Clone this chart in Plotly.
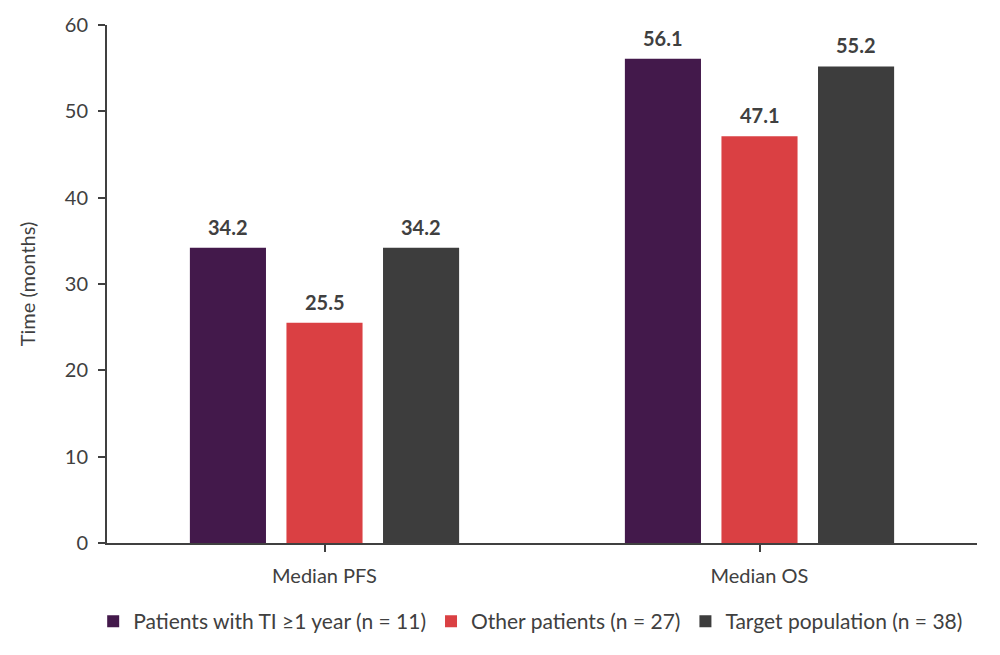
import plotly.graph_objects as go

categories = ["Median PFS", "Median OS"]
series_names = [
    "Patients with TI \u22651 year (n = 11)",
    "Other patients (n = 27)",
    "Target population (n = 38)",
]
ti_values = [34.2, 56.1]
other_values = [25.5, 47.1]
target_values = [34.2, 55.2]
colors = ["#43194B", "#DA4043", "#3D3D3D"]

FONT = "Lato"
TXT = "#404040"
FS = 20

W, H = 1000, 655
ML, MR, MT, MB = 107, 23, 25, 112
BARGAP, GROUPGAP = 0.334, 0.212

fig = go.Figure()
all_vals = [ti_values, other_values, target_values]
for name, vals, col in zip(series_names, all_vals, colors):
    fig.add_trace(go.Bar(
        x=categories, y=vals, name=name, marker=dict(color=col, line=dict(width=0)),
        cliponaxis=False, hoverinfo="skip",
    ))

# value labels above bars (offset computed from the bar layout)
plot_w = W - ML - MR
slot = plot_w / len(categories) * (1 - BARGAP) / len(all_vals)
for i, vals in enumerate(all_vals):
    for c, v in zip(categories, vals):
        fig.add_annotation(
            x=c, y=v, xref="x", yref="y", text=f"<b>{v:.1f}</b>", showarrow=False,
            xshift=(i - (len(all_vals) - 1) / 2) * slot, yshift=7, yanchor="bottom",
            font=dict(family=FONT, size=FS, color=TXT),
        )

fig.update_layout(
    width=W, height=H,
    paper_bgcolor="white", plot_bgcolor="white",
    margin=dict(l=ML, r=MR, t=MT, b=MB, autoexpand=False),
    barmode="group", bargap=BARGAP, bargroupgap=GROUPGAP,
    font=dict(family=FONT, size=FS, color=TXT),
    legend=dict(orientation="h", x=0.487, xanchor="center", y=-0.112, yanchor="top",
                font=dict(family=FONT, size=21, color=TXT),
                traceorder="normal"),
    xaxis=dict(showline=True, linecolor="#404040", linewidth=2, ticks="outside",
               ticklen=7, tickcolor="#404040", tickwidth=1.5, automargin=False,
               ticklabelstandoff=7,
               tickfont=dict(family=FONT, size=FS, color=TXT)),
    yaxis=dict(range=[0, 60], dtick=10, showline=True, linecolor="#404040", linewidth=2,
               ticks="outside", ticklen=7, tickcolor="#404040", tickwidth=1.5,
               showgrid=False, zeroline=False, automargin=False,
               ticklabelstandoff=6,
               title=dict(text="Time (months)", font=dict(family=FONT, size=FS, color=TXT),
                          standoff=24),
               tickfont=dict(family=FONT, size=FS, color=TXT)),
)

fig.write_html("out.html", config={"displayModeBar": False},
               post_script="document.body.style.margin='0';")
